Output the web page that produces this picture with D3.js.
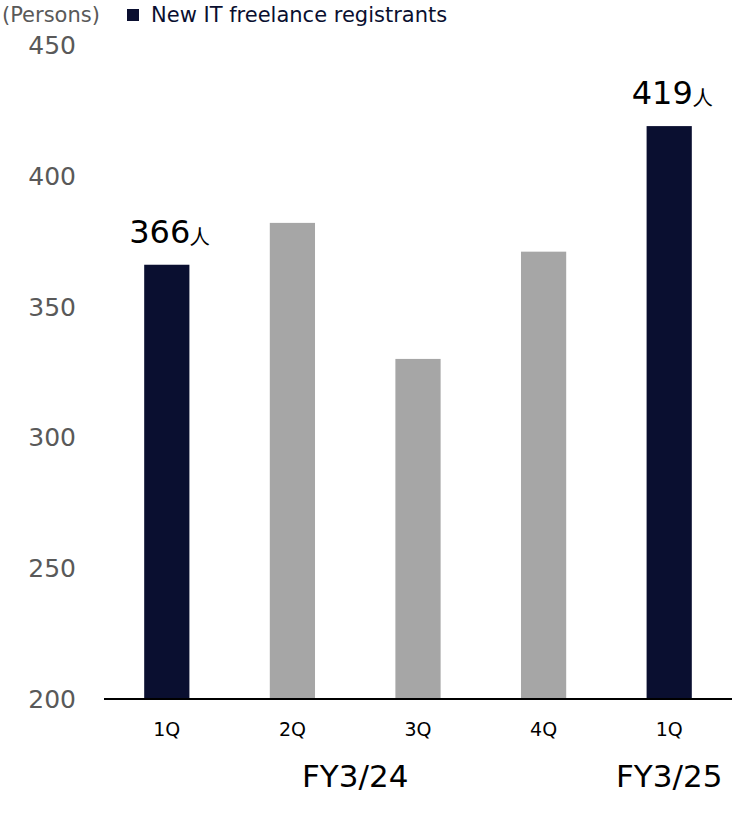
<!DOCTYPE html>
<html>
<head>
<meta charset="utf-8">
<script src="https://cdn.jsdelivr.net/npm/d3@7/dist/d3.min.js"></script>
<style>
  html, body { margin: 0; padding: 0; background: #fff; }
  svg { display: block; font-family: "DejaVu Sans", Verdana, sans-serif; }
</style>
</head>
<body>
<svg id="chart" width="733" height="813"></svg>
<script>
// Quarterly new IT freelance registrants
const quarters = ["1Q", "2Q", "3Q", "4Q", "1Q "];
const registrants = [366, 382, 330, 371, 419];
const highlighted = [true, false, false, false, true];
const yTicks = [200, 250, 300, 350, 400, 450];
const fiscalYears = [
  { label: "FY3/24", from: 0, to: 3 },
  { label: "FY3/25", from: 4, to: 4 }
];
const valueLabels = [
  { index: 0, text: "366" },
  { index: 4, text: "419" }
];

const NAVY = "#0a0f30";
const GRAY = "#a6a6a6";

const svg = d3.select("#chart");

const x = d3.scaleBand()
  .domain(quarters)
  .range([104, 732])
  .paddingInner(0.64)
  .paddingOuter(0.32);

const y = d3.scaleLinear()
  .domain([200, 450])
  .range([699, 45]);

// y tick labels (no axis line)
svg.append("g")
  .selectAll("text")
  .data(yTicks)
  .join("text")
  .attr("x", 76)
  .attr("y", d => y(d))
  .attr("dy", "0.36em")
  .attr("text-anchor", "end")
  .attr("fill", "#595959")
  .attr("font-size", 25)
  .text(d => d);

// bars
svg.append("g")
  .selectAll("rect")
  .data(registrants)
  .join("rect")
  .attr("x", (d, i) => x(quarters[i]))
  .attr("y", d => y(d))
  .attr("width", x.bandwidth())
  .attr("height", d => y(200) - y(d))
  .attr("fill", (d, i) => highlighted[i] ? NAVY : GRAY);

// baseline
svg.append("line")
  .attr("x1", 104).attr("x2", 732)
  .attr("y1", y(200)).attr("y2", y(200))
  .attr("stroke", "#000")
  .attr("stroke-width", 2);

// quarter labels
svg.append("g")
  .selectAll("text")
  .data(quarters)
  .join("text")
  .attr("x", d => x(d) + x.bandwidth() / 2)
  .attr("y", 736)
  .attr("text-anchor", "middle")
  .attr("fill", "#000")
  .attr("font-size", 19)
  .text(d => d.trim());

// fiscal year labels
svg.append("g")
  .selectAll("text")
  .data(fiscalYears)
  .join("text")
  .attr("x", d => (x(quarters[d.from]) + x(quarters[d.to]) + x.bandwidth()) / 2)
  .attr("y", 787)
  .attr("text-anchor", "middle")
  .attr("fill", "#000")
  .attr("font-size", 31)
  .text(d => d.label);

// value labels above highlighted bars
const vl = svg.append("g")
  .selectAll("text")
  .data(valueLabels)
  .join("text")
  .attr("x", d => x(quarters[d.index]) + x.bandwidth() / 2 + 3)
  .attr("y", d => y(registrants[d.index]) - 22)
  .attr("text-anchor", "middle")
  .attr("fill", "#000")
  .attr("font-size", 32);
vl.append("tspan").text(d => d.text);
vl.append("tspan").attr("font-size", 20).text("人");

// legend
svg.append("text")
  .attr("x", 2).attr("y", 22)
  .attr("fill", "#595959")
  .attr("font-size", 21)
  .text("(Persons)");
svg.append("rect")
  .attr("x", 127).attr("y", 9)
  .attr("width", 12).attr("height", 12)
  .attr("fill", NAVY);
svg.append("text")
  .attr("x", 151).attr("y", 22)
  .attr("fill", NAVY)
  .attr("font-size", 21)
  .text("New IT freelance registrants");
</script>
</body>
</html>
